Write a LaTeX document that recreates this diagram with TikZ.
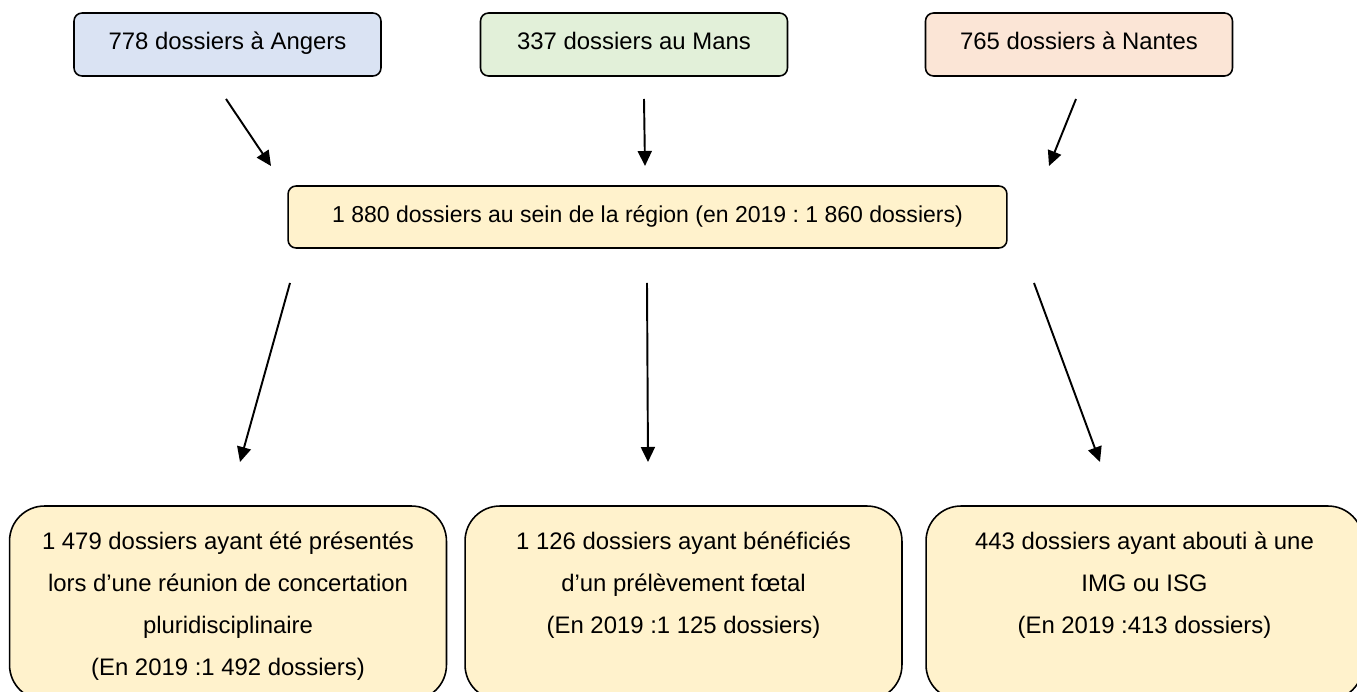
\documentclass[tikz,border=0pt]{standalone}
\usepackage{fontspec}
\setmainfont{Liberation Sans}
\usetikzlibrary{positioning, arrows.meta}
\definecolor{angersblue}{HTML}{DAE3F3}
\definecolor{mansgreen}{HTML}{E2F0D9}
\definecolor{nantesorange}{HTML}{FBE5D6}
\definecolor{regionyellow}{HTML}{FFF2CC}
\frenchspacing

\begin{document}
\begin{tikzpicture}[x=0.02cm, y=-0.02cm, >={Triangle[length=0.3cm, width=0.28cm]},
                    every node/.style={font=\fontsize{13.6}{23.9}\selectfont},
                    sitebox/.style={draw, line width=0.9pt, rounded corners=0.16cm,
                                    text height=0.72em, text depth=0.16em,
                                    minimum width=6.14cm, minimum height=1.26cm},
                    resultbox/.style={draw, line width=0.9pt, fill=regionyellow,
                                      rounded corners=0.7cm, minimum width=8.74cm, minimum height=3.88cm},
                    resulttext/.style={align=center, inner sep=0pt},
                    flow/.style={->, line width=1.1pt}]

  \useasboundingbox (0,0) rectangle (1357,692);

  %% les trois centres
  \node[sitebox, fill=angersblue]   (angers) at (227.5,44.5) {778 dossiers à Angers};
  \node[sitebox, fill=mansgreen]    (mans)   at (634,44.5)   {337 dossiers au Mans};
  \node[sitebox, fill=nantesorange] (nantes) at (1079,44.5)  {765 dossiers à Nantes};

  %% total régional
  \node[draw, line width=0.9pt, fill=regionyellow, rounded corners=0.16cm,
        text height=0.72em, text depth=0.08em, font=\fontsize{13.1}{16}\selectfont,
        minimum width=14.38cm, minimum height=1.24cm] (region) at (647.5,217)
        {1 880 dossiers au sein de la région (en 2019 : 1 860 dossiers)};

  %% devenir des dossiers
  \node[resultbox] (rcp)  at (228,603)    {};
  \node[resultbox] (prel) at (683.5,603)  {};
  \node[resultbox] (img)  at (1144.5,603) {};

  \node[resulttext, below=0.53cm of rcp.north] (rcptext)
    {1 479 dossiers ayant été présentés\\lors d’une réunion de concertation\\pluridisciplinaire\\(En 2019 :1 492 dossiers)};
  \node[resulttext, below=0.53cm of prel.north] (preltext)
    {1 126 dossiers ayant bénéficiés\\d’un prélèvement fœtal\\(En 2019 :1 125 dossiers)};
  \node[resulttext, below=0.53cm of img.north] (imgtext)
    {443 dossiers ayant abouti à une\\IMG ou ISG\\(En 2019 :413 dossiers)};

  %% flèches
  \coordinate (angersout) at (226,99);   \coordinate (regionin1) at (271,166);
  \coordinate (mansout)   at (644,99);   \coordinate (regionin2) at (645,166);
  \coordinate (nantesout) at (1076,99);  \coordinate (regionin3) at (1049,166);
  \coordinate (regionout1) at (290,283); \coordinate (rcpin)  at (240,462);
  \coordinate (regionout2) at (647,283); \coordinate (prelin) at (648,462);
  \coordinate (regionout3) at (1034,283); \coordinate (imgin) at (1100,462);

  \draw[flow] (angersout) -- (regionin1);
  \draw[flow] (mansout) -- (regionin2);
  \draw[flow] (nantesout) -- (regionin3);
  \draw[flow] (regionout1) -- (rcpin);
  \draw[flow] (regionout2) -- (prelin);
  \draw[flow] (regionout3) -- (imgin);

\end{tikzpicture}
\end{document}
